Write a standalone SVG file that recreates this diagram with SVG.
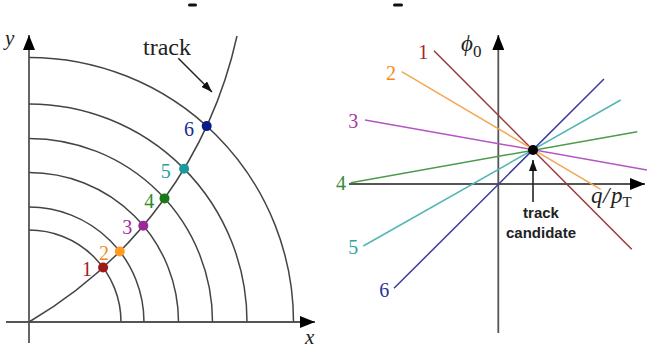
<svg xmlns="http://www.w3.org/2000/svg" width="647" height="351" viewBox="0 0 647 351">
<style>
.ax{stroke:#555;stroke-width:1.8;fill:none}
.arc{stroke:#444;stroke-width:1.5;fill:none}
.num{font-family:"Liberation Serif","DejaVu Serif",serif;font-size:20px;text-anchor:middle}
.lbl{font-family:"Liberation Serif","DejaVu Serif",serif;font-style:italic;font-size:21px;fill:#222}
.big{font-size:23px}
.ln{stroke-width:1.5;fill:none}
.cand{font-family:"Liberation Sans",Arial,sans-serif;font-weight:bold;font-size:15px;fill:#222;text-anchor:middle}
</style>
<defs>
<marker id="axhead" markerUnits="userSpaceOnUse" markerWidth="16" markerHeight="12" refX="15" refY="6" orient="auto">
<path d="M0,0 L15,6 L0,12 Z" fill="#000"/>
</marker>
<marker id="smhead" markerUnits="userSpaceOnUse" markerWidth="12" markerHeight="8" refX="11" refY="4" orient="auto">
<path d="M0,0 L11,4 L0,8 Z" fill="#111"/>
</marker>
</defs>
<rect width="647" height="351" fill="#fff"/>
<rect x="188" y="3.5" width="9" height="3" rx="1.5" fill="#111"/>
<rect x="393" y="3.5" width="10" height="3" rx="1.5" fill="#111"/>

<g id="connectors">
<line class="ax" x1="29" y1="343" x2="29" y2="35" marker-end="url(#axhead)"/>
<line class="ax" x1="6" y1="322" x2="315" y2="322" marker-end="url(#axhead)"/>
<path class="arc" d="M121,322 A92,92 0 0 0 29,230"/>
<path class="arc" d="M144,322 A115,115 0 0 0 29,207"/>
<path class="arc" d="M178.5,322 A149.5,149.5 0 0 0 29,172.5"/>
<path class="arc" d="M212.5,322 A183.5,183.5 0 0 0 29,138.5"/>
<path class="arc" d="M247,322 A218,218 0 0 0 29,104"/>
<path class="arc" d="M293.5,322 A264.5,264.5 0 0 0 29,57.5"/>
<path class="arc" d="M29,322 A442,442 0 0 0 237,36"/>
<line x1="178.3" y1="58.3" x2="212" y2="92" stroke="#222" stroke-width="1.5" marker-end="url(#smhead)"/>
<line class="ax" x1="498.3" y1="333" x2="498.3" y2="35" marker-end="url(#axhead)"/>
<line class="ax" x1="349" y1="184" x2="645" y2="184" marker-end="url(#axhead)"/>
<line class="ln" stroke="#9a3838" x1="434" y1="50.7" x2="631.7" y2="249.3"/>
<line class="ln" stroke="#f4a652" x1="401.7" y1="71.7" x2="600.7" y2="189.3"/>
<line class="ln" stroke="#b455c4" x1="365" y1="120" x2="647" y2="170"/>
<line class="ln" stroke="#4c9a4c" x1="350.7" y1="182.7" x2="637.3" y2="131.7"/>
<line class="ln" stroke="#55b4b4" x1="363.3" y1="246" x2="620.7" y2="100"/>
<line class="ln" stroke="#3a3aa4" x1="394" y1="288.3" x2="604" y2="79"/>
<line x1="533" y1="202" x2="533" y2="160" stroke="#222" stroke-width="1.6" marker-end="url(#smhead)"/>
</g>

<g id="hit1"><circle cx="103.1" cy="267.5" r="5" fill="#a01818"/><text class="num" x="87" y="276" fill="#a02020">1</text></g>
<g id="hit2"><circle cx="119.8" cy="251.4" r="5" fill="#ff9a22"/><text class="num" x="104" y="260" fill="#f08a22">2</text></g>
<g id="hit3"><circle cx="143.3" cy="225.7" r="5" fill="#9a2a9a"/><text class="num" x="127.3" y="234" fill="#a030a0">3</text></g>
<g id="hit4"><circle cx="164.5" cy="198.4" r="5" fill="#1a7a1a"/><text class="num" x="149.3" y="207.5" fill="#2e8a2e">4</text></g>
<g id="hit5"><circle cx="184.1" cy="168.8" r="5" fill="#1a9a9a"/><text class="num" x="165.7" y="177.5" fill="#2aa0a0">5</text></g>
<g id="hit6"><circle cx="206.7" cy="126.1" r="5" fill="#0a1a8a"/><text class="num" x="189" y="136" fill="#1a2a9a">6</text></g>

<g id="left-labels">
<text x="143" y="55" font-family="Liberation Serif, DejaVu Serif, serif" font-size="24" fill="#222">track</text>
<text class="lbl" x="5" y="45">y</text>
<text class="lbl" x="305" y="344">x</text>
</g>

<g id="line1-label"><text class="num" x="423.3" y="58.5" fill="#a02828">1</text></g>
<g id="line2-label"><text class="num" x="391" y="79.5" fill="#f08a22">2</text></g>
<g id="line3-label"><text class="num" x="353.3" y="127.5" fill="#a838a8">3</text></g>
<g id="line4-label"><text class="num" x="341" y="189.5" fill="#3a8a3a">4</text></g>
<g id="line5-label"><text class="num" x="353.3" y="254" fill="#30a4a4">5</text></g>
<g id="line6-label"><text class="num" x="384.3" y="297" fill="#2a30a4">6</text></g>

<g id="candidate">
<circle cx="533" cy="150" r="5" fill="#000"/>
<text class="cand" x="541" y="217.5">track</text>
<text class="cand" x="541" y="237.5">candidate</text>
</g>

<g id="right-labels">
<text class="lbl big" x="461" y="51">ϕ<tspan style="font-style:normal;font-size:17px" dy="6">0</tspan></text>
<text class="lbl big" y="203"><tspan x="591">q</tspan><tspan x="603">/</tspan><tspan x="611">p</tspan><tspan style="font-style:normal;font-size:15px" dy="4">T</tspan></text>
</g>
</svg>
